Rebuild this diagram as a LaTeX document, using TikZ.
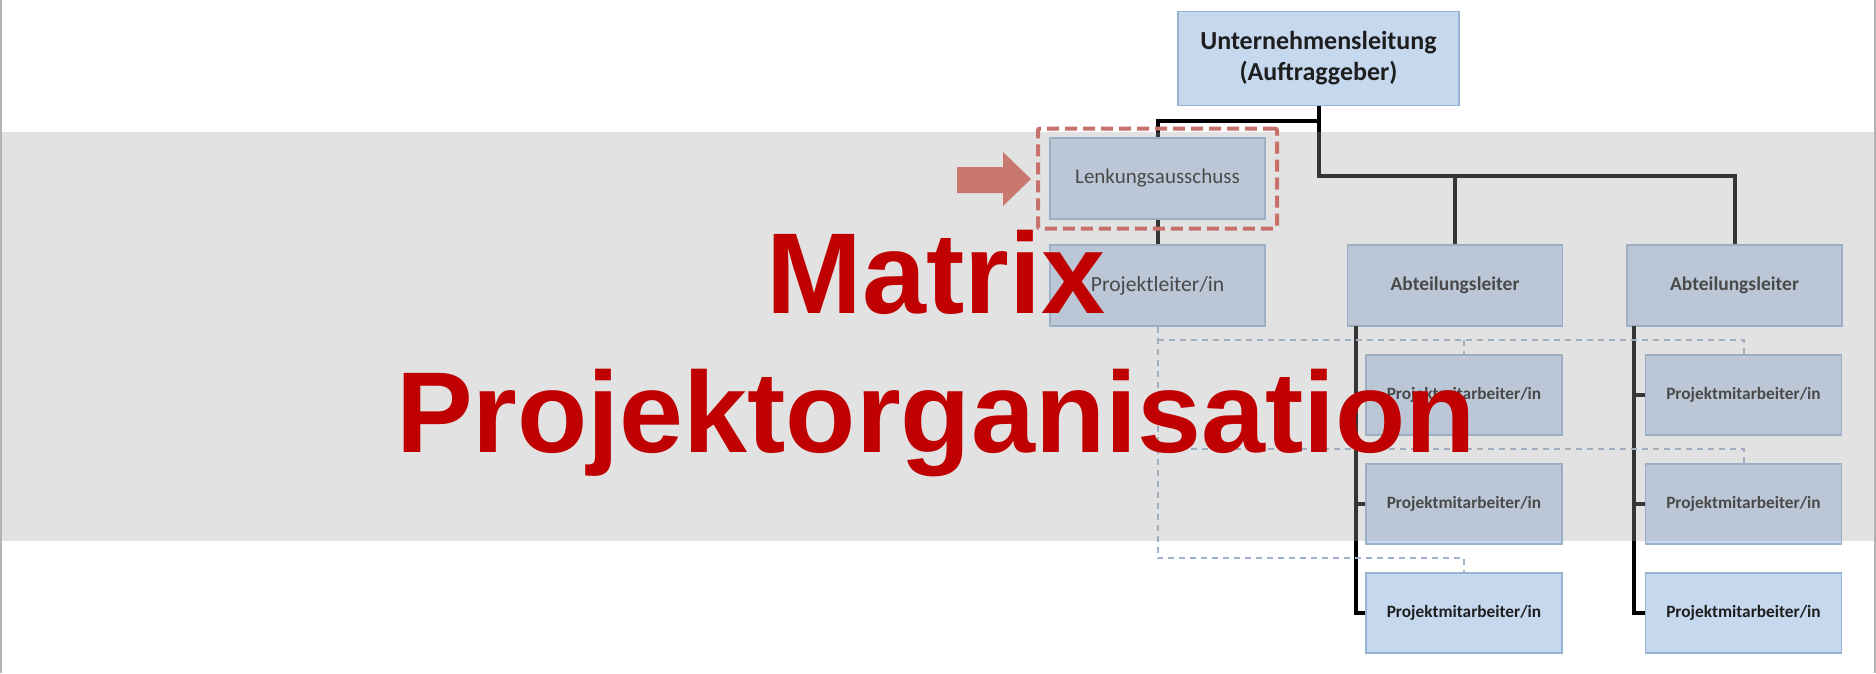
\documentclass[tikz,border=0pt]{standalone}
\usepackage{fontspec}
\setmainfont{Carlito}
\newfontfamily\titlefont{Liberation Sans}
\definecolor{boxfill}{HTML}{C6D8EE}
\definecolor{boxline}{HTML}{98B3D2}
\definecolor{txt}{HTML}{1E1E1E}
\definecolor{bandgray}{HTML}{A6A6A6}
\definecolor{titlered}{HTML}{C00000}
\definecolor{arrowred}{HTML}{C8786F}
\definecolor{selred}{HTML}{C8706A}
\definecolor{dashblue}{HTML}{9DB4CC}
\definecolor{edgegray}{HTML}{B4B4B4}
\tikzset{
  orgbox/.style={draw=boxline, fill=boxfill, line width=1.3pt, inner sep=0pt, text=txt, align=center},
  bigbox/.style={orgbox, minimum width=215pt, minimum height=81pt},
  pmbox/.style={orgbox, minimum width=196pt, minimum height=80pt, font=\bfseries\fontsize{17.3}{20}\selectfont},
  conn/.style={draw=black, line width=4pt},
  dashline/.style={draw=dashblue, line width=2pt, dash pattern=on 6pt off 5pt},
  titletext/.style={font=\titlefont\bfseries\fontsize{115}{139}\selectfont, text=titlered, anchor=base, inner sep=0pt}
}
\begin{document}
\begin{tikzpicture}[x=1pt,y=-1pt]
\useasboundingbox (0,0) rectangle (1876,673);
\fill[white] (0,0) rectangle (1876,673);

% boxes
\node[orgbox, minimum width=281pt, minimum height=94pt, font=\bfseries\fontsize{26}{31}\selectfont] (unt) at (1318.5,58.5) {Unternehmensleitung\\(Auftraggeber)};
\node[bigbox, font=\fontsize{21}{25}\selectfont] (lenk) at (1157.5,178.5) {Lenkungsausschuss};
\node[bigbox, font=\fontsize{21.6}{25}\selectfont] (proj) at (1157.5,285.5) {Projektleiter/in};
\node[bigbox, font=\bfseries\fontsize{19.5}{23}\selectfont] (abt1) at (1455,285.5) {Abteilungsleiter};
\node[bigbox, font=\bfseries\fontsize{19.5}{23}\selectfont] (abt2) at (1734.5,285.5) {Abteilungsleiter};
\node[pmbox] (pm11) at (1464,395) {Projektmitarbeiter/in};
\node[pmbox] (pm12) at (1464,504) {Projektmitarbeiter/in};
\node[pmbox] (pm13) at (1464,613) {Projektmitarbeiter/in};
\node[pmbox] (pm21) at (1743.5,395) {Projektmitarbeiter/in};
\node[pmbox] (pm22) at (1743.5,504) {Projektmitarbeiter/in};
\node[pmbox] (pm23) at (1743.5,613) {Projektmitarbeiter/in};

% black connectors
\coordinate (j1) at (1318.5,121);
\coordinate (j2) at (1318.5,176);
\draw[conn] (unt.south) -- (j1) -| (lenk.north);
\draw[conn] (j1) -- (j2) -| (abt2.north);
\draw[conn] (j2 -| abt1.north) -- (abt1.north);
\draw[conn] (lenk.south) -- (proj.north);
\coordinate (c1) at (1356,326);
\coordinate (c2) at (1634,326);
\draw[conn] (c1) |- (pm13.west);
\draw[conn] (c1 |- pm11.west) -- (pm11.west);
\draw[conn] (c1 |- pm12.west) -- (pm12.west);
\draw[conn] (c2) |- (pm23.west);
\draw[conn] (c2 |- pm21.west) -- (pm21.west);
\draw[conn] (c2 |- pm22.west) -- (pm22.west);

% dashed project lines
\coordinate (d1) at (1157.5,340);
\coordinate (d2) at (1157.5,449);
\coordinate (d3) at (1157.5,558);
\draw[dashline] (proj.south) -- (d3) -| (pm13.north);
\draw[dashline] (d1) -| (pm21.north);
\draw[dashline] (d2) -| (pm22.north);
\draw[dashline] (d1 -| pm11.north) -- (pm11.north);

% gray band overlay
\fill[bandgray, opacity=0.32] (2,132) rectangle (1874,541);

% selection frame and arrow
\node[draw=selred, line width=4pt, dash pattern=on 12pt off 6pt, rounded corners=2pt, minimum width=239pt, minimum height=100pt, inner sep=0pt] (sel) at (lenk) {};
\fill[arrowred] (957,167) -- (1003,167) -- (1003,152) -- (1031,179) -- (1003,206) -- (1003,193) -- (957,193) -- cycle;

% edges
\draw[edgegray, line width=2pt] (1,0) -- (1,673);
\draw[edgegray, line width=2pt] (1875,0) -- (1875,673);

% title
\node[titletext] (t1) at (936,313) {Matrix};
\node[titletext] (t2) at (936,452) {Projektorganisation};
\end{tikzpicture}
\end{document}
